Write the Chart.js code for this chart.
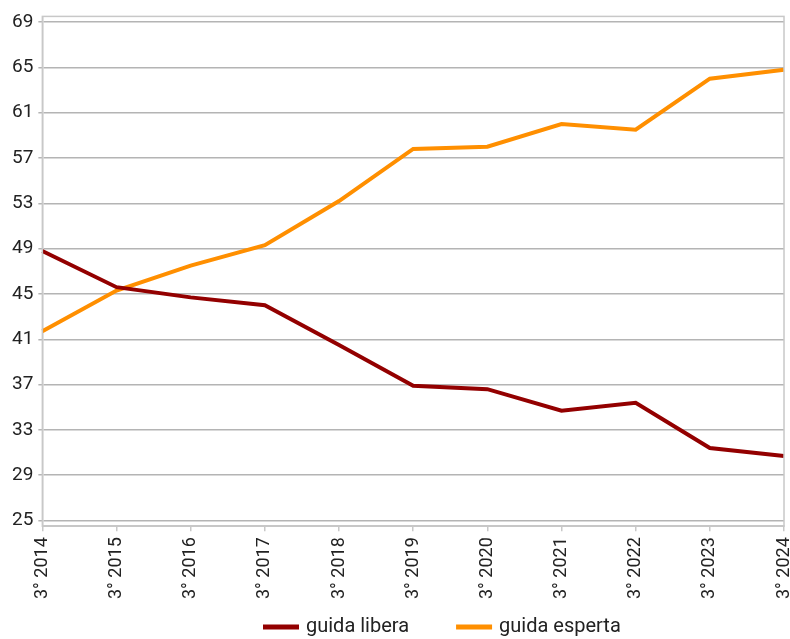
<!DOCTYPE html>
<html lang="it">
<head>
    <meta charset="UTF-8">
    <script src="https://cdn.jsdelivr.net/npm/chart.js"></script>
    <title>Guida libera / guida esperta</title>
    <style>
        body { margin: 0; background: #fff; }
        #box { width: 790px; height: 639px; }
    </style>
</head>
<body>
    <div id="box"><canvas id="grafico"></canvas></div>

<script>
    const anni = ['3° 2014', '3° 2015', '3° 2016', '3° 2017', '3° 2018', '3° 2019',
                  '3° 2020', '3° 2021', '3° 2022', '3° 2023', '3° 2024'];
    const guidaLibera = [48.8, 45.6, 44.7, 44.0, 40.5, 36.9, 36.6, 34.7, 35.4, 31.4, 30.7];
    const guidaEsperta = [41.7, 45.3, 47.5, 49.3, 53.2, 57.8, 58.0, 60.0, 59.5, 64.0, 64.8];
    const tickY = [25, 29, 33, 37, 41, 45, 49, 53, 57, 61, 65, 69];

    // cornice intorno all'area del grafico
    const cornice = {
        id: 'cornice',
        afterDraw(chart) {
            const a = chart.chartArea;
            const c = chart.ctx;
            c.save();
            c.strokeStyle = '#c8c8c8';
            c.lineWidth = 1.5;
            c.strokeRect(a.left, a.top, a.right - a.left, a.bottom - a.top);
            c.restore();
        }
    };

    // legenda in basso, disegnata a mano per avere le spaziature giuste
    const legenda = {
        id: 'legenda',
        afterDraw(chart) {
            const c = chart.ctx;
            const lungh = 36, spazio = 7, gap = 47;
            let x = 263;
            const y = 627;
            c.save();
            c.font = '20px Roboto';
            c.textBaseline = 'middle';
            chart.data.datasets.forEach(d => {
                c.fillStyle = d.borderColor;
                c.fillRect(x, y - 2.5, lungh, 5);
                x += lungh + spazio;
                c.fillStyle = '#222';
                c.fillText(d.label, x, y);
                x += c.measureText(d.label).width + gap;
            });
            c.restore();
        }
    };

    new Chart(document.getElementById('grafico'), {
        type: 'line',
        data: {
            labels: anni,
            datasets: [
                {
                    label: 'guida libera',
                    data: guidaLibera,
                    borderColor: '#930000',
                    backgroundColor: '#930000',
                    borderWidth: 4,
                    pointRadius: 0,
                    tension: 0
                },
                {
                    label: 'guida esperta',
                    data: guidaEsperta,
                    borderColor: '#ff8f00',
                    backgroundColor: '#ff8f00',
                    borderWidth: 4,
                    pointRadius: 0,
                    tension: 0
                }
            ]
        },
        options: {
            responsive: true,
            maintainAspectRatio: false,
            animation: false,
            layout: { padding: { top: 15, right: 6, left: 7, bottom: 34 } },
            plugins: {
                tooltip: { enabled: false },
                legend: { display: false }
            },
            scales: {
                x: {
                    offset: false,
                    afterFit(scale) {
                        scale.paddingLeft = 0;
                        scale.paddingRight = 0;
                    },
                    grid: {
                        drawOnChartArea: false,
                        drawTicks: true,
                        tickLength: 5,
                        color: '#c8c8c8',
                        lineWidth: 1.5
                    },
                    border: { color: '#c8c8c8', width: 1.5 },
                    ticks: {
                        minRotation: 90,
                        maxRotation: 90,
                        autoSkip: false,
                        padding: 6,
                        color: '#222',
                        font: { family: 'Roboto', size: 18 }
                    }
                },
                y: {
                    min: 24.5,
                    max: 69.5,
                    afterBuildTicks(scale) {
                        scale.ticks = tickY.map(v => ({ value: v }));
                    },
                    grid: {
                        color: '#b4b4b4',
                        lineWidth: 1.5,
                        tickLength: 4
                    },
                    border: { color: '#c8c8c8', width: 1.5 },
                    ticks: {
                        padding: 5,
                        color: '#222',
                        font: { family: 'Roboto', size: 19 }
                    }
                }
            }
        },
        plugins: [cornice, legenda]
    });
</script>
</body>
</html>
